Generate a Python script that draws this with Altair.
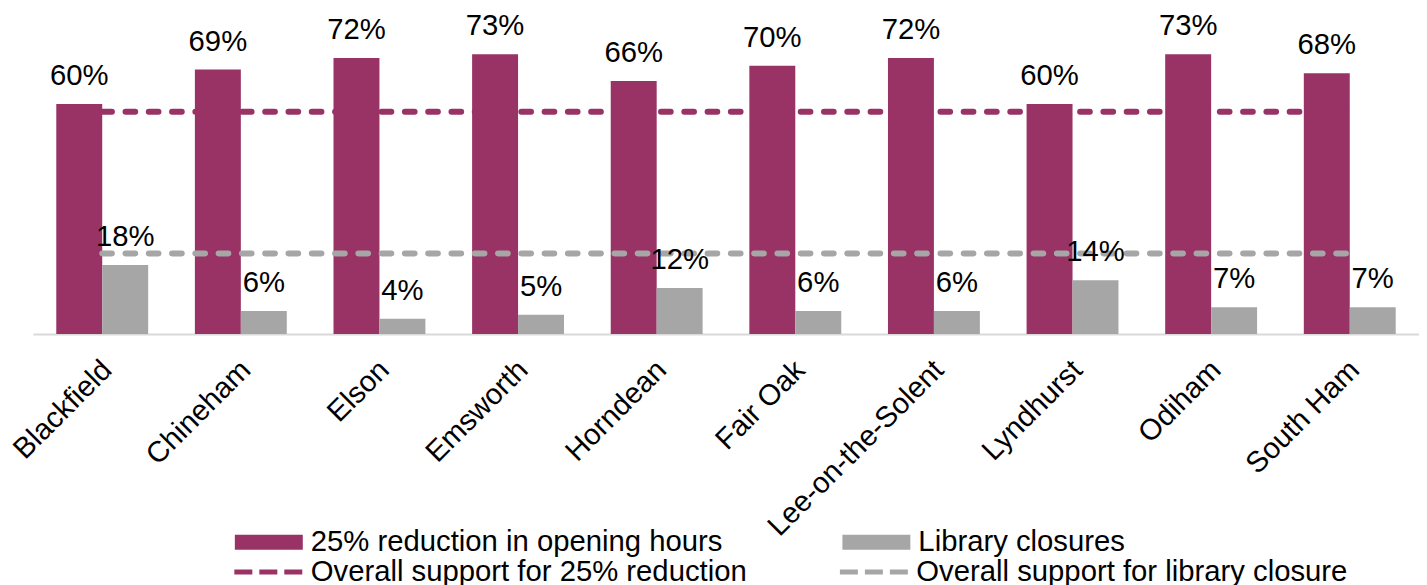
import altair as alt
import pandas as pd

towns = ["Blackfield", "Chineham", "Elson", "Emsworth", "Horndean", "Fair Oak",
         "Lee-on-the-Solent", "Lyndhurst", "Odiham", "South Ham"]
reduction = [60, 69, 72, 73, 66, 70, 72, 60, 73, 68]
closures = [18, 6, 4, 5, 12, 6, 6, 14, 7, 7]
overall_reduction = 58
overall_closure = 21

bar_series = ["25% reduction in opening hours", "Library closures"]
line_series = ["Overall support for 25% reduction", "Overall support for library closure"]
maroon = "#993366"
grey = "#A6A6A6"
FONT = "Liberation Sans"
FS = 29.3

rows = []
for t, r, c in zip(towns, reduction, closures):
    rows.append({"town": t, "series": bar_series[0], "value": r, "label": f"{r}%"})
    rows.append({"town": t, "series": bar_series[1], "value": c, "label": f"{c}%"})
bars_df = pd.DataFrame(rows)

lrows = []
for t in towns:
    lrows.append({"town": t, "line": line_series[0], "value": overall_reduction})
    lrows.append({"town": t, "line": line_series[1], "value": overall_closure})
lines_df = pd.DataFrame(lrows)

x_enc = alt.X("town:N", sort=towns,
              scale=alt.Scale(paddingInner=0.337, paddingOuter=0.168),
              axis=alt.Axis(title=None, labelAngle=-45, labelAlign="right",
                            labelBaseline="middle", labelFontSize=FS, labelFont=FONT,
                            labelColor="black", labelPadding=31, labelOffset=5,
                            ticks=False, domainColor="#D9D9D9", domainWidth=2,
                            labelLimit=0))
y_enc = alt.Y("value:Q", scale=alt.Scale(domain=[0, 85], nice=False), axis=None)
xoff = alt.XOffset("series:N", sort=bar_series,
                   scale=alt.Scale(paddingInner=0, paddingOuter=0))

bars = alt.Chart(bars_df).mark_bar().encode(
    x=x_enc,
    xOffset=xoff,
    y=y_enc,
    color=alt.Color("series:N", sort=bar_series,
                    scale=alt.Scale(domain=bar_series, range=[maroon, grey]),
                    legend=alt.Legend(title=None, orient="none", legendX=202, legendY=500,
                                      direction="horizontal", columns=2,
                                      symbolType="M-1,-0.22H1V0.22H-1Z", symbolSize=4624,
                                      symbolStrokeWidth=0, symbolOpacity=1,
                                      labelFontSize=FS, labelFont=FONT, labelColor="black",
                                      labelOffset=8, labelLimit=0, columnPadding=119,
                                      padding=0)),
)

lines = alt.Chart(lines_df).mark_line(strokeWidth=6, strokeCap="round",
                                      strokeDash=[9.7, 13.6]).encode(
    x=alt.X("town:N", sort=towns),
    y=alt.Y("value:Q"),
    color=alt.Color("line:N", sort=line_series,
                    scale=alt.Scale(domain=line_series, range=[maroon, grey]),
                    legend=alt.Legend(title=None, orient="none", legendX=199, legendY=527.5,
                                      direction="horizontal", columns=2,
                                      symbolType="stroke", symbolSize=4624,
                                      symbolStrokeWidth=5, symbolDash=[18, 7],
                                      labelFontSize=FS, labelFont=FONT, labelColor="black",
                                      labelOffset=6, labelLimit=0, columnPadding=82,
                                      padding=0)),
)

texts = alt.Chart(bars_df).mark_text(font=FONT, fontSize=FS, color="black",
                                     baseline="alphabetic", dy=-19).encode(
    x=alt.X("town:N", sort=towns),
    xOffset=xoff,
    y=alt.Y("value:Q"),
    text="label:N",
)

chart = alt.layer(bars, lines, texts).resolve_scale(color="independent").properties(
    width=1387, height=326,
    padding={"left": 0, "top": 0, "right": 0, "bottom": 0}
).configure_view(stroke=None)

chart.save("out.html", embed_options={"renderer": "svg", "actions": False})
